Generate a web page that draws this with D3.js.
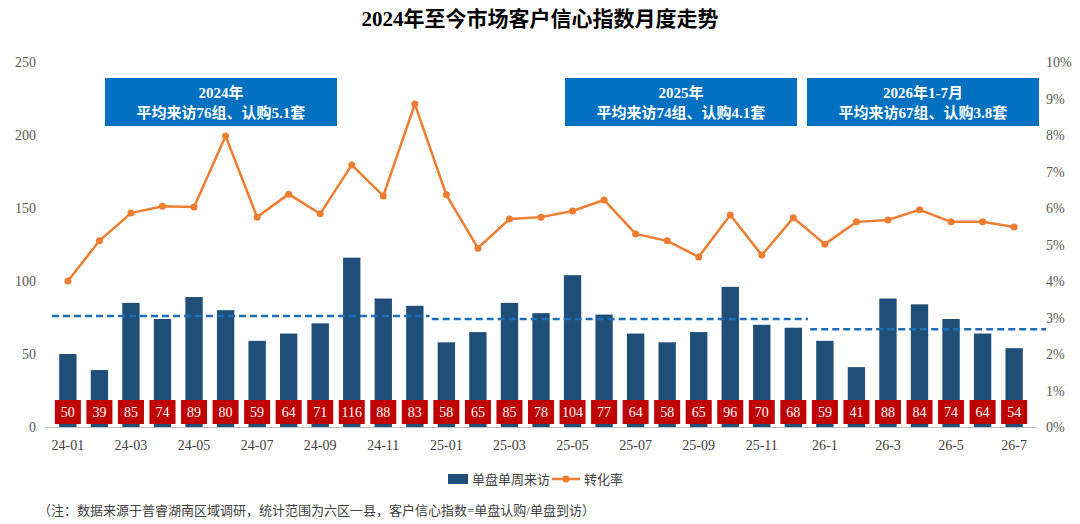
<!DOCTYPE html>
<html><head><meta charset="utf-8">
<script src="https://cdn.jsdelivr.net/npm/d3@7"></script>
<style>body{margin:0;background:#fff}text{font-family:"Liberation Serif","Noto Sans CJK SC",serif}</style>
</head><body><svg id="c" width="1080" height="524"></svg>
<script>
var months = ["24-01","24-02","24-03","24-04","24-05","24-06","24-07","24-08","24-09","24-10","24-11","24-12",
  "25-01","25-02","25-03","25-04","25-05","25-06","25-07","25-08","25-09","25-10","25-11","25-12",
  "26-1","26-2","26-3","26-4","26-5","26-6","26-7"];
var visits = [50,39,85,74,89,80,59,64,71,116,88,83,58,65,85,78,104,77,64,58,65,96,70,68,59,41,88,84,74,64,54];
var rate = [4.0,5.1,5.86,6.05,6.03,7.97,5.75,6.38,5.84,7.18,6.33,8.85,6.36,4.9,5.7,5.75,5.92,6.22,5.29,5.1,4.66,5.81,4.71,5.73,5.01,5.62,5.67,5.95,5.62,5.62,5.48];
var periods = [
  {from:0,to:12,avg:76,l1:"2024年",l2:"平均来访76组、认购5.1套",bx:0,bi:1.5},
  {from:12,to:24,avg:74,l1:"2025年",l2:"平均来访74组、认购4.1套",bi:16.2},
  {from:24,to:31,avg:67,l1:"2026年1-7月",l2:"平均来访67组、认购3.8套",bi:23.7}
];

var svg = d3.select("#c");
var x = d3.scaleBand().domain(months).range([45,1037]).padding(0.45);
var y = d3.scaleLinear().domain([0,250]).range([427,62]);
var y2 = d3.scaleLinear().domain([0,10]).range([427,62]);
var cx = function(i){ return x(months[i]) + x.bandwidth()/2; };

svg.append("text").attr("x",540).attr("y",26).attr("text-anchor","middle")
  .style("font-size","21px").style("font-weight","bold").text("2024年至今市场客户信心指数月度走势");

svg.selectAll(".yl").data(y.ticks(5)).join("text").attr("x",36).attr("y",function(d){return y(d)+5;})
  .attr("text-anchor","end").style("font-size","14px").attr("fill","#595959").text(function(d){return d;});
svg.selectAll(".yr").data(d3.range(0,11)).join("text").attr("x",1046).attr("y",function(d){return y2(d)+5;})
  .style("font-size","14px").attr("fill","#595959").text(function(d){return d+"%";});

svg.append("line").attr("x1",45).attr("x2",1037).attr("y1",427.5).attr("y2",427.5).attr("stroke","#bfbfbf");
svg.selectAll(".xl").data(months).join("text").attr("x",function(d){return x(d)+x.bandwidth()/2;})
  .attr("y",450).attr("text-anchor","middle").style("font-size","14px").attr("fill","#404040")
  .text(function(d,i){return i%2===0?d:"";});

svg.selectAll(".bar").data(visits).join("rect").attr("x",function(d,i){return x(months[i]);})
  .attr("y",function(d){return y(d);}).attr("width",x.bandwidth()).attr("height",function(d){return 427-y(d);})
  .attr("fill","#1F4E79");

// averages
periods.forEach(function(p,k){
  var x1 = k===0 ? 52 : x(months[p.from]) - 6;
  var x2 = k===2 ? 1046 : x(months[p.to-1]) + x.bandwidth() + 6;
  svg.append("line").attr("x1",x1).attr("x2",x2).attr("y1",y(p.avg)).attr("y2",y(p.avg))
    .attr("stroke","#1F6FB8").attr("stroke-width",2.5).attr("stroke-dasharray","7,4");
  var bxc = k===0 ? 221 : (k===1 ? 681 : 923);
  svg.append("rect").attr("x",bxc-116).attr("y",78).attr("width",232).attr("height",48).attr("fill","#0070C0");
  svg.append("text").attr("x",bxc).attr("y",98).attr("text-anchor","middle").attr("fill","#fff")
    .style("font-size","15px").style("font-weight","bold").text(p.l1);
  svg.append("text").attr("x",bxc).attr("y",118).attr("text-anchor","middle").attr("fill","#fff")
    .style("font-size","15px").style("font-weight","bold").text(p.l2);
});

var line = d3.line().x(function(d,i){return cx(i);}).y(function(d){return y2(d);});
svg.append("path").datum(rate).attr("d",line).attr("fill","none").attr("stroke","#ED7D31").attr("stroke-width",2.5);
svg.selectAll(".pt").data(rate).join("circle").attr("cx",function(d,i){return cx(i);})
  .attr("cy",function(d){return y2(d);}).attr("r",3.5).attr("fill","#ED7D31");

var lab = svg.selectAll(".lb").data(visits).join("g")
  .attr("transform",function(d,i){return "translate("+cx(i)+",412)";});
lab.append("rect").attr("x",-13).attr("y",-12).attr("width",26).attr("height",24).attr("fill","#C00000");
lab.append("text").attr("y",5).attr("text-anchor","middle").attr("fill","#fff").style("font-size","14px")
  .text(function(d){return d;});

// legend
svg.append("rect").attr("x",448).attr("y",474).attr("width",20).attr("height",10).attr("fill","#1F4E79");
svg.append("text").attr("x",472).attr("y",484).style("font-size","13px").attr("fill","#404040").text("单盘单周来访");
svg.append("line").attr("x1",552).attr("x2",580).attr("y1",479).attr("y2",479).attr("stroke","#ED7D31").attr("stroke-width",2.5);
svg.append("circle").attr("cx",566).attr("cy",479).attr("r",3.5).attr("fill","#ED7D31");
svg.append("text").attr("x",584).attr("y",484).style("font-size","13px").attr("fill","#404040").text("转化率");

svg.append("text").attr("x",38).attr("y",515).style("font-size","13px").attr("fill","#404040")
  .text("（注：数据来源于普睿湖南区域调研，统计范围为六区一县，客户信心指数=单盘认购/单盘到访）");
</script></body></html>
